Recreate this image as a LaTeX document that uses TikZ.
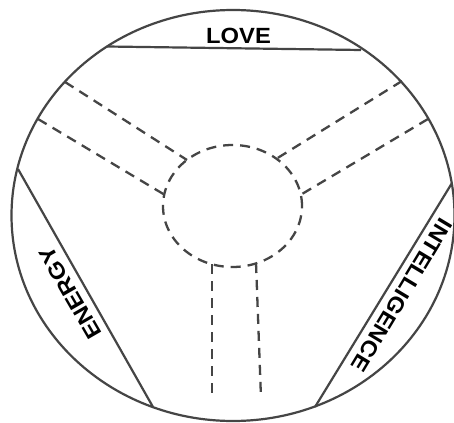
\documentclass[tikz,border=0pt]{standalone}
\usepackage{fontspec}
\setmainfont{Liberation Sans}
\definecolor{linegray}{HTML}{454545}
\begin{document}
\begin{tikzpicture}[x=1pt,y=-1pt,
  edge/.style={line width=2.2pt, draw=linegray},
  spoke/.style={line width=2.3pt, draw=linegray, dash pattern=on 10pt off 7pt},
  lbl/.style={font=\bfseries\fontsize{22}{26}\selectfont, inner sep=0pt, text=black}]
\useasboundingbox (0,0) rectangle (454,422);
\fill[white] (0,0) rectangle (454,422);
% outer wheel
\coordinate (O) at (233,215.5);
\draw[edge] (O) ellipse [x radius=221.5pt, y radius=205.5pt];
% chords
\coordinate (L1) at (107,46.5);
\coordinate (L2) at (361,50);
\coordinate (E1) at (18,169);
\coordinate (E2) at (153,407);
\coordinate (I1) at (452,183);
\coordinate (I2) at (315,407);
\draw[edge] (L1) -- (L2);
\draw[edge] (E1) -- (E2);
\draw[edge] (I1) -- (I2);
% hub
\coordinate (C) at (232.5,206);
\draw[spoke] (C) ellipse [x radius=69.5pt, y radius=61pt];
% spokes
\coordinate (A1) at (65,82);   \coordinate (A2) at (187,160);
\coordinate (B1) at (38,119);  \coordinate (B2) at (165,195);
\coordinate (C1) at (402,81);  \coordinate (C2) at (276,159);
\coordinate (D1) at (428,119); \coordinate (D2) at (302,194);
\coordinate (F1) at (212,264); \coordinate (F2) at (212,400);
\coordinate (G1) at (256,263); \coordinate (G2) at (261,398);
\draw[spoke] (A1) -- (A2);
\draw[spoke] (B1) -- (B2);
\draw[spoke] (C1) -- (C2);
\draw[spoke] (D1) -- (D2);
\draw[spoke] (F1) -- (F2);
\draw[spoke] (G1) -- (G2);
% labels
\node[lbl, anchor=base, xscale=1.08] (love) at (238.5,43.5) {LOVE};
\node[lbl, rotate=120, xscale=1.1] (energy) at (70,293) {ENERGY};
\node[lbl, rotate=-121, xscale=1.08] (intel) at (402,295) {INTELLIGENCE};
\end{tikzpicture}
\end{document}
